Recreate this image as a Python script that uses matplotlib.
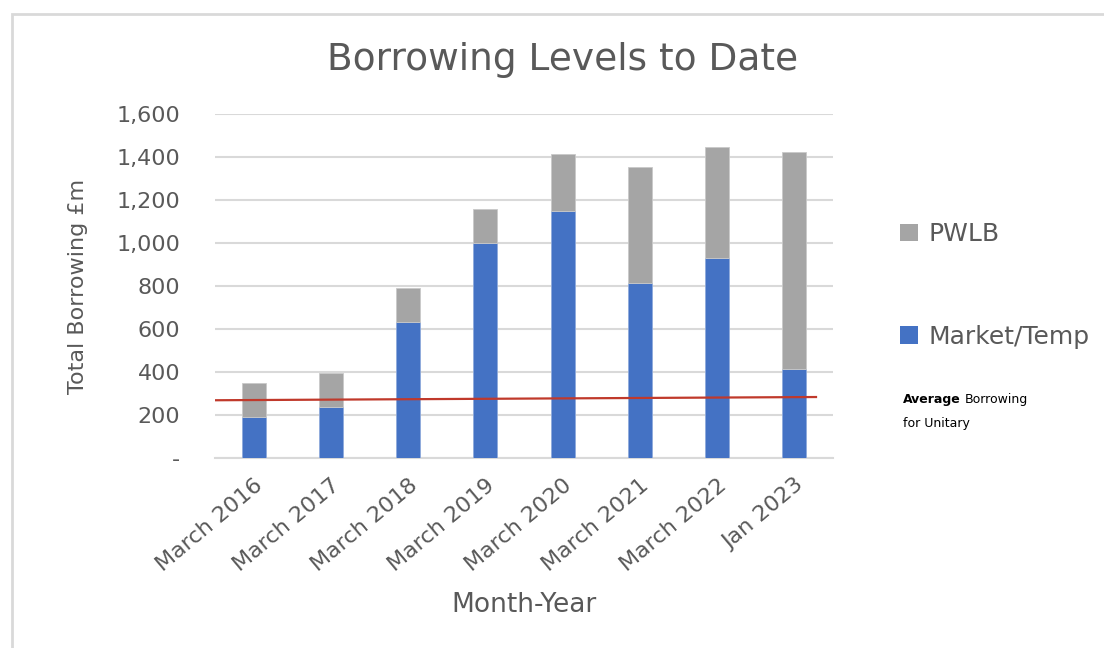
import numpy as np
import matplotlib
matplotlib.use("Agg")
import matplotlib.pyplot as plt
from matplotlib.patches import Rectangle, Patch
from matplotlib.ticker import FuncFormatter

plt.rcParams['font.family'] = ['DejaVu Sans']

# data (GBP m)
months = ['March 2016', 'March 2017', 'March 2018', 'March 2019',
          'March 2020', 'March 2021', 'March 2022', 'Jan 2023']
market_temp = [194, 237, 634, 1000, 1152, 817, 933, 414]
total = [352, 395, 793, 1160, 1415, 1353, 1446, 1426]
pwlb = [t - m for t, m in zip(total, market_temp)]
avg_unitary = [270, 285]  # start / end of the average line

txt = '#595959'
grid = '#d9d9d9'
W, H = 1104, 648

fig = plt.figure(figsize=(W / 100, H / 100), dpi=100)
ax = fig.add_axes([215 / W, 1 - 458.3 / H, 618 / W, 344 / H])

x = np.arange(len(months))
w = 0.31
ax.bar(x, market_temp, w, color='#4472C4', edgecolor='#8faadc', linewidth=0.6,
       label='Market/Temp', zorder=3)
ax.bar(x, pwlb, w, bottom=market_temp, color='#A5A5A5', edgecolor='#c9c9c9',
       linewidth=0.6, label='PWLB', zorder=3)

# average borrowing line
ax.plot([-0.5, 7.28], avg_unitary, color='#c0392b', lw=1.6, zorder=4)

ax.set_xlim(-0.5, len(months) - 0.5)
ax.set_ylim(0, 1600)
ax.set_yticks(range(0, 1601, 200))
ax.yaxis.set_major_formatter(FuncFormatter(lambda v, p: '-' if v == 0 else f'{int(v):,}'))
ax.grid(axis='y', color=grid, lw=1.5, zorder=0)
ax.set_axisbelow(True)
for s in ['top', 'right', 'left']:
    ax.spines[s].set_visible(False)
ax.spines['bottom'].set_color(grid)
ax.spines['bottom'].set_linewidth(1.5)
ax.tick_params(length=0, colors=txt, labelsize=16)
ax.tick_params(axis='y', pad=25)
ax.set_xticks(x)
ax.set_xticklabels(months, rotation=40, ha='right', rotation_mode='anchor')
ax.tick_params(axis='x', pad=12)

ax.set_ylabel('Total Borrowing £m', fontsize=16, color=txt)
ax.yaxis.set_label_coords((88 - 215) / 618, 0.5)
ax.set_xlabel('Month-Year', fontsize=19, color=txt)
ax.xaxis.set_label_coords((524 - 215) / 618, (458.3 - 592) / 344)
fig.text(563 / W, 1 - 60 / H, 'Borrowing Levels to Date', fontsize=27, color=txt,
         ha='center', va='center')

handles = [Patch(facecolor='#A5A5A5', label='PWLB'),
           Patch(facecolor='#4472C4', label='Market/Temp')]
fig.legend(handles=handles, loc='upper left', bbox_to_anchor=(0.795, 0.692),
           frameon=False, fontsize=18, labelcolor=txt, labelspacing=3.15,
           handlelength=0.7, handleheight=0.7, handletextpad=0.45)

# "Average Borrowing / for Unitary" note
t1 = fig.text(903 / W, 1 - 400 / H, 'Average', fontsize=9, fontweight='bold',
              color='black', va='center')
fig.canvas.draw()
bb = t1.get_window_extent()
fig.text((bb.x1 + 4) / W, 1 - 400 / H, 'Borrowing', fontsize=9,
         color='black', va='center')
fig.text(903 / W, 1 - 423 / H, 'for Unitary', fontsize=9, color='black',
         va='center')

# outer frame of the chart box
fig.patches.append(Rectangle((12 / W, -0.1), 1.2, (1 - 14 / H) + 0.1,
                             transform=fig.transFigure, fill=False,
                             edgecolor='#d9d9d9', lw=2))

fig.savefig('out.png', dpi=100)
